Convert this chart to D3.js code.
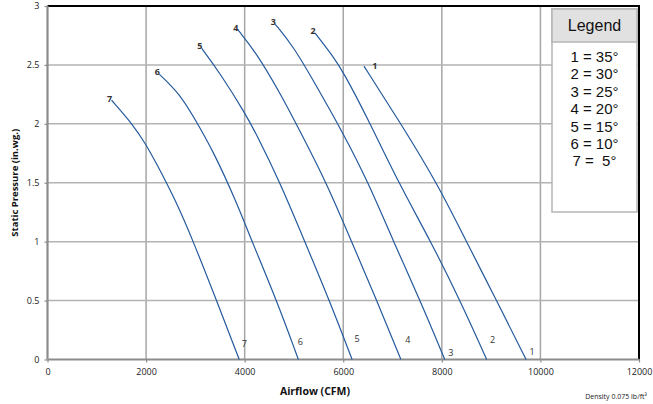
<!DOCTYPE html>
<html><head><meta charset="utf-8">
<script src="https://cdn.jsdelivr.net/npm/d3@7"></script>
<style>
html,body{margin:0;padding:0;background:#fff;}
svg{display:block;}
</style>
</head><body>
<svg id="chart" width="653" height="404"></svg>
<script>
// ---- data (airflow CFM, static pressure in.wg.) ----
const curveNames = ["1","2","3","4","5","6","7"];
const curve1 = [[6420,2.49],[7170,2.0],[7900,1.5],[8500,1.0],[9110,0.5],[9710,0]];
const curve2 = [[5430,2.77],[5800,2.57],[6000,2.44],[6480,2.06],[7120,1.5],[7780,1.0],[8370,0.5],[8910,0]];
const curve3 = [[4620,2.845],[4990,2.655],[5390,2.37],[6000,1.92],[6510,1.5],[7020,1.0],[7560,0.5],[8060,0]];
const curve4 = [[3860,2.80],[4240,2.60],[4720,2.26],[5120,1.94],[5660,1.5],[6170,1.0],[6680,0.5],[7170,0]];
const curve5 = [[3130,2.64],[3500,2.43],[4010,2.09],[4240,1.91],[4710,1.51],[5220,1.0],[5720,0.5],[6180,0]];
const curve6 = [[2270,2.42],[2690,2.25],[2990,2.04],[3360,1.77],[3820,1.35],[4150,1.0],[4650,0.5],[5090,0]];
const curve7 = [[1300,2.20],[1740,1.99],[1990,1.83],[2210,1.665],[2600,1.35],[2960,1.0],[3430,0.5],[3890,0]];
const curves = [curve1,curve2,curve3,curve4,curve5,curve6,curve7];
const xTicks = [0,2000,4000,6000,8000,10000,12000];
const yTicks = [0,0.5,1,1.5,2,2.5,3];
const legendTitle = "Legend";
const legendItems = ["1 = 35°","2 = 30°","3 = 25°","4 = 20°","5 = 15°","6 = 10°","7 =  5°"];
const xTitle = "Airflow (CFM)";
const yTitle = "Static Pressure (in.wg.)";
const footnote = "Density 0.075 lb/ft³";

// ---- label offsets (style) ----
const startOff = [[11,0],[-2,-2],[-2,-2],[-2,-2],[-2,-2],[-2,-2],[-2,-1]];
const endOff = [[6,-8],[6,-20],[6,-7],[7,-20],[5,-21],[2,-18],[5,-16]];

const svg = d3.select("#chart");
const m = {l:47.5, r:639, t:6, b:359.5};
const x = d3.scaleLinear().domain([0,12000]).range([m.l,m.r]);
const y = d3.scaleLinear().domain([0,3]).range([m.b,m.t]);
const font = "'Open Sans', 'Liberation Sans', Arial, sans-serif";

// grid
const g = svg.append("g");
g.selectAll("line.vg").data(xTicks.slice(1,-1)).join("line")
  .attr("x1",d=>x(d)).attr("x2",d=>x(d)).attr("y1",m.t).attr("y2",m.b)
  .attr("stroke","#a6a6a6").attr("stroke-width",1.5);
g.selectAll("line.hg").data(yTicks.slice(1,-1)).join("line")
  .attr("x1",m.l).attr("x2",m.r).attr("y1",d=>y(d)).attr("y2",d=>y(d))
  .attr("stroke","#b3b3b3").attr("stroke-width",1.5);

// border top/right black
svg.append("line").attr("x1",m.l).attr("x2",m.r+1).attr("y1",m.t).attr("y2",m.t).attr("stroke","#000").attr("stroke-width",2);
svg.append("line").attr("x1",m.r).attr("x2",m.r).attr("y1",m.t).attr("y2",m.b).attr("stroke","#000").attr("stroke-width",2);

// axes
const xAxis = d3.axisBottom(x).tickValues(xTicks).tickSize(3).tickPadding(6).tickFormat(d3.format("d"));
const yAxis = d3.axisLeft(y).tickValues(yTicks).tickSize(3).tickPadding(5).tickFormat(d=>String(d));
const gx = svg.append("g").attr("transform",`translate(0,${m.b})`).call(xAxis);
const gy = svg.append("g").attr("transform",`translate(${m.l},0)`).call(yAxis);
[gx,gy].forEach(a=>{
  a.select(".domain").attr("stroke","#8c8c8c").attr("stroke-width",2.2);
  a.selectAll(".tick line").attr("stroke","#8c8c8c").attr("stroke-width",1.2);
  a.selectAll(".tick text").attr("font-family",font).attr("font-size",9).attr("fill","#222");
});
gx.select(".domain").attr("d",`M${m.l},0H${m.r}`);
gy.select(".domain").attr("d",`M0,${m.b}V${m.t}`);

// legend box
const lg = svg.append("g");
lg.append("rect").attr("x",552).attr("y",9).attr("width",85).attr("height",203)
  .attr("fill","#fff").attr("stroke","#b5b5b5").attr("stroke-width",1.5);
lg.append("rect").attr("x",552).attr("y",9).attr("width",85).attr("height",33)
  .attr("fill","#e1e1e1").attr("stroke","#b5b5b5").attr("stroke-width",1.5);
lg.append("text").attr("x",594.5).attr("y",31).attr("text-anchor","middle")
  .attr("font-family","'Liberation Sans', Arial, sans-serif").attr("font-size",16).attr("fill","#111").text(legendTitle);
lg.selectAll("text.it").data(legendItems).join("text")
  .attr("x",594.5).attr("y",(d,i)=>62+i*17.4).attr("text-anchor","middle")
  .attr("font-family","'Liberation Sans', Arial, sans-serif").attr("font-size",15).attr("fill","#111")
  .attr("xml:space","preserve").style("white-space","pre").text(d=>d);

// curves
const line = d3.line().x(d=>x(d[0])).y(d=>y(d[1])).curve(d3.curveBasis);
svg.append("g").selectAll("path").data(curves).join("path")
  .attr("d",line).attr("fill","none").attr("stroke","#245a9c").attr("stroke-width",1.2);

// curve labels
const lab = svg.append("g").attr("font-family",font).attr("font-size",9).attr("fill","#333");
curves.forEach((c,i)=>{
  const s=c[0], e=c[c.length-1];
  lab.append("text").attr("x",x(s[0])+startOff[i][0]).attr("y",y(s[1])+startOff[i][1]+3)
    .attr("text-anchor","middle").attr("font-weight","bold").text(curveNames[i]);
  lab.append("text").attr("x",x(e[0])+endOff[i][0]).attr("y",y(e[1])+endOff[i][1]+3)
    .attr("text-anchor","middle").text(curveNames[i]);
});

// titles
svg.append("text").attr("x",315).attr("y",395).attr("text-anchor","middle")
  .attr("font-family",font).attr("font-weight","bold").attr("font-size",10.5).attr("fill","#111").text(xTitle);
svg.append("text").attr("transform",`translate(18,${(m.t+m.b)/2}) rotate(-90)`).attr("text-anchor","middle")
  .attr("font-family",font).attr("font-weight","bold").attr("font-size",9.5).attr("fill","#111").text(yTitle);
svg.append("text").attr("x",647).attr("y",399).attr("text-anchor","end")
  .attr("font-family",font).attr("font-size",7).attr("fill","#222").text(footnote);
</script>
</body></html>
